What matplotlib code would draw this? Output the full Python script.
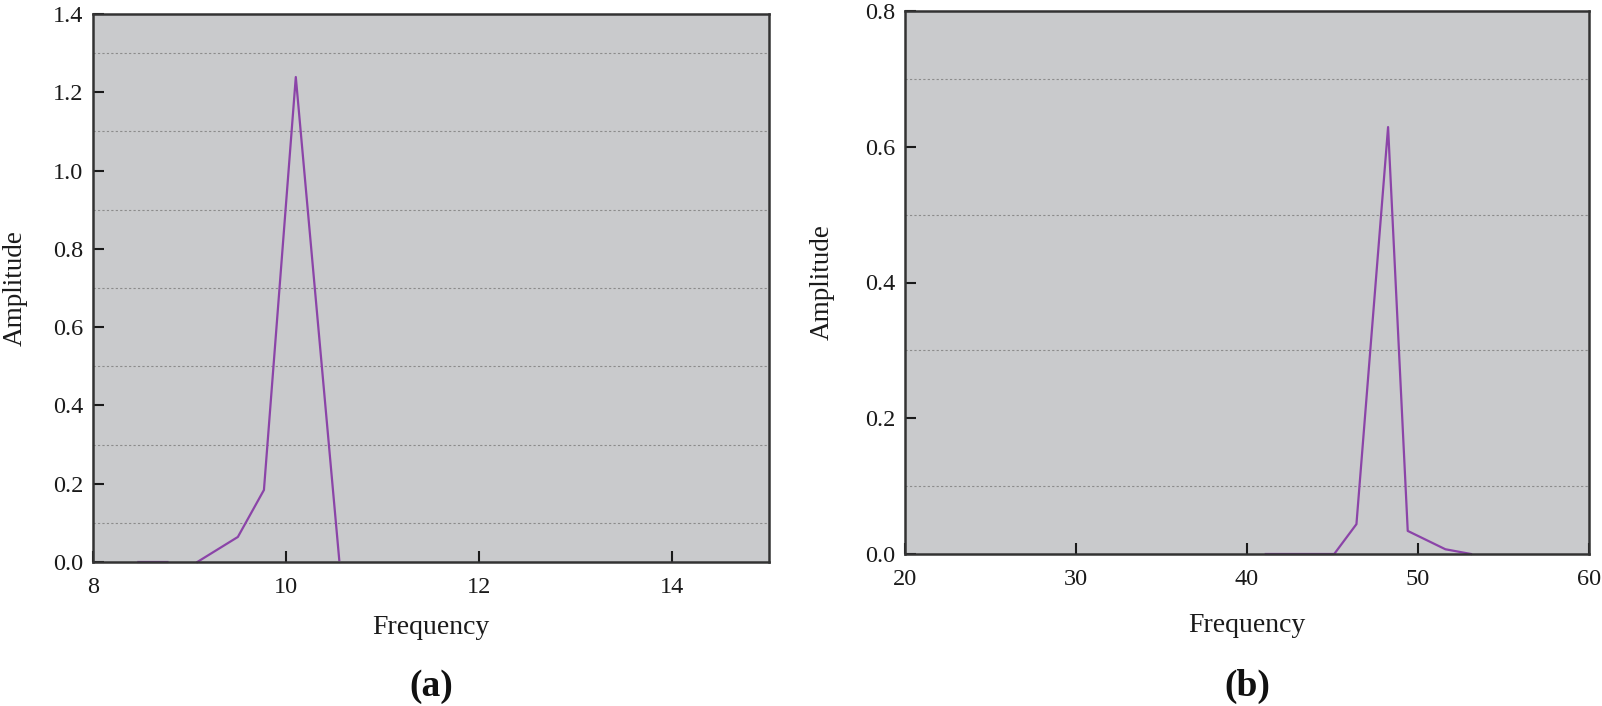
import numpy as np
import matplotlib
matplotlib.use("Agg")
import matplotlib.pyplot as plt
from matplotlib.ticker import FixedLocator

# panel (a) spectrum, nan splits the line where it is hidden by the axis
freq_a = [8.47, 8.77, np.nan, 9.08, 9.50, 9.77, 10.10, 10.55]
amp_a = [0.0, 0.0, np.nan, 0.0, 0.064, 0.184, 1.239, 0.005]

# panel (b) spectrum
freq_b = [41.1, 45.1, 46.4, 48.25, 49.4, 51.6, 53.1]
amp_b = [0.0, 0.0, 0.044, 0.629, 0.034, 0.007, 0.0]

xticks_a = [8, 10, 12, 14]
yticks_a = [0.0, 0.2, 0.4, 0.6, 0.8, 1.0, 1.2, 1.4]
grid_a = [0.1, 0.3, 0.5, 0.7, 0.9, 1.1, 1.3]

xticks_b = [20, 30, 40, 50, 60]
yticks_b = [0.0, 0.2, 0.4, 0.6, 0.8]
grid_b = [0.1, 0.3, 0.5, 0.7]

plt.rcParams['font.family'] = ['Liberation Serif', 'DejaVu Serif']

bg = '#c9cacc'
line_col = '#8b44a8'
spine_col = '#333333'

fig = plt.figure(figsize=(16.02, 7.06), dpi=100)
ax_a = fig.add_axes([93 / 1602, 1 - 562 / 706, 676 / 1602, 548 / 706])
ax_b = fig.add_axes([905 / 1602, 1 - 554 / 706, 684 / 1602, 543 / 706])


def style_axes(ax, xlim, ylim, xticks, yticks, grid_pos, ylab_x, xlab_y, tag_y, tag):
  ax.set_facecolor(bg)
  ax.set_xlim(*xlim)
  ax.set_ylim(*ylim)
  ax.set_xticks(xticks)
  ax.set_yticks(yticks)
  ax.set_xticklabels([str(t) for t in xticks])
  ax.set_yticklabels([f"{t:.1f}" for t in yticks])
  ax.yaxis.set_minor_locator(FixedLocator(grid_pos))
  ax.tick_params(axis='y', which='minor', length=0)
  ax.grid(axis='y', which='minor', linestyle=(0, (2, 2)), color='#8c8c8c', linewidth=0.8)
  ax.set_axisbelow(True)
  ax.tick_params(axis='both', which='major', direction='in', length=8, width=1.5,
                 labelsize=17.5, colors='#1a1a1a')
  ax.tick_params(axis='x', pad=11)
  ax.tick_params(axis='y', pad=7)
  for s in ax.spines.values():
    s.set_color(spine_col)
    s.set_linewidth(1.8)
  ax.set_xlabel('Frequency', fontsize=20, color='#1a1a1a', va='center')
  ax.xaxis.set_label_coords(0.5, xlab_y)
  ax.set_ylabel('Amplitude', fontsize=19.5, color='#1a1a1a', va='center')
  ax.yaxis.set_label_coords(ylab_x, 0.5)
  ax.text(0.5, tag_y, tag, transform=ax.transAxes, ha='center', va='center',
          fontsize=27, fontweight='bold', color='#111111')


ax_a.plot(freq_a, amp_a, color=line_col, linewidth=1.6, clip_on=False)
style_axes(ax_a, (8, 15), (0, 1.4), xticks_a, yticks_a, grid_a, -0.115, -0.12, -0.227, '(a)')

ax_b.plot(freq_b, amp_b, color=line_col, linewidth=1.6, clip_on=False)
style_axes(ax_b, (20, 60), (0, 0.8), xticks_b, yticks_b, grid_b, -0.121, -0.131, -0.243, '(b)')

fig.savefig('out.png', dpi=100, facecolor='white')
